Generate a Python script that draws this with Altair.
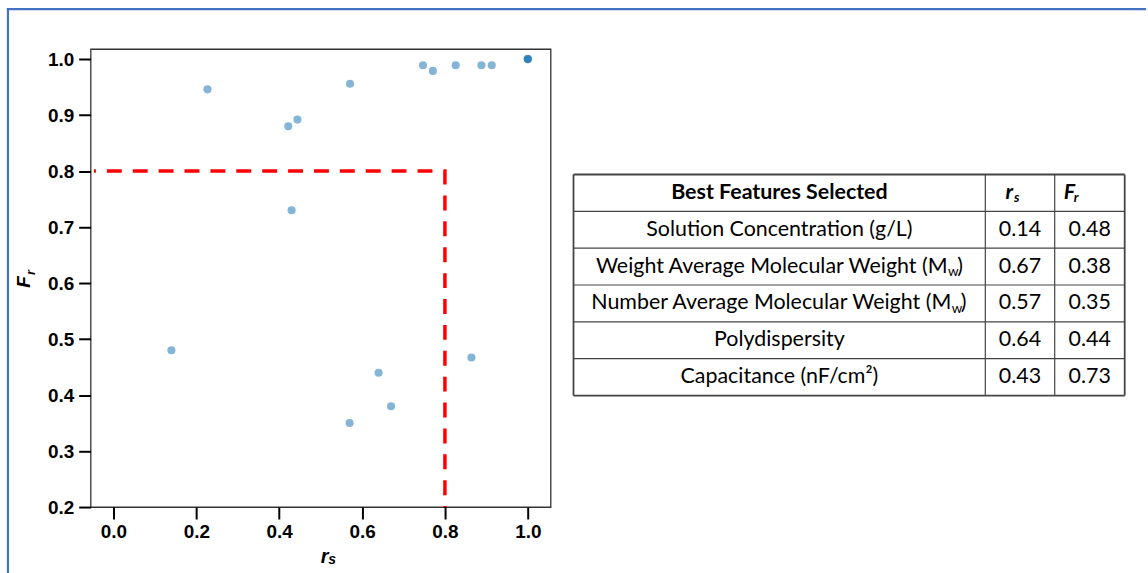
import altair as alt
import pandas as pd

# ---- scatter: rank correlation (r_s) vs. feature retention (F_r) ----
RS_POINTS = [0.14, 0.67, 0.57, 0.64, 0.43, 0.227, 0.422, 0.444, 0.571,
             0.747, 0.771, 0.826, 0.888, 0.913, 0.864, 1.0, 1.0, 1.0]
FR_POINTS = [0.48, 0.38, 0.35, 0.44, 0.73, 0.946, 0.880, 0.892, 0.956,
             0.989, 0.979, 0.989, 0.989, 0.989, 0.467, 1.0, 1.0, 1.0]

# dashed selection boundary at r_s = F_r = 0.8
THRESHOLD_RS = [-0.047, 0.8, 0.8]
THRESHOLD_FR = [0.8, 0.8, 0.2]

X_TICKS = [0.0, 0.2, 0.4, 0.6, 0.8, 1.0]
Y_TICKS = [0.2, 0.3, 0.4, 0.5, 0.6, 0.7, 0.8, 0.9, 1.0]

# ---- table of selected features ----
HEADERS = ["Best Features Selected", "r_s", "F_r"]
FEATURES = [
    "Solution Concentration (g/L)",
    "Weight Average Molecular Weight (M_w)",
    "Number Average Molecular Weight (M_w)",
    "Polydispersity",
    "Capacitance (nF/cm\u00b2)",
]
FEATURE_RS = [0.14, 0.67, 0.57, 0.64, 0.43]
FEATURE_FR = [0.48, 0.38, 0.35, 0.44, 0.73]

AXIS_FONT = "Liberation Sans"
TABLE_FONT = "Lato"
BORDER_BLUE = "#4472c4"


def split_sub(label):
    """'abc (M_w)' -> ('abc (M', 'w', ')')"""
    if "_" not in label:
        return label, "", ""
    head, rest = label.split("_", 1)
    return head, rest[0], rest[1:]


# ================= scatter panel =================
PW, PH = 462, 460
x_scale = alt.Scale(domain=[-0.055, 1.055], nice=False, zero=False)
y_scale = alt.Scale(domain=[0.2, 1.018], nice=False, zero=False)
axis_style = dict(
    format=".1f", title=None, grid=False, domain=False,
    tickColor="black", tickWidth=2, tickSize=12,
    labelFont=AXIS_FONT, labelFontSize=19, labelFontWeight="bold",
    labelColor="black", labelFlush=False, labelOverlap=False,
)
X = alt.X("rs:Q", scale=x_scale, axis=alt.Axis(values=X_TICKS, labelPadding=4, **axis_style))
Y = alt.Y("fr:Q", scale=y_scale, axis=alt.Axis(values=Y_TICKS, labelPadding=5, **axis_style))

points = alt.Chart(pd.DataFrame({"rs": RS_POINTS, "fr": FR_POINTS})).mark_circle(
    size=66, color="#1f77b4", opacity=0.55
).encode(x=X, y=Y)

threshold = alt.Chart(pd.DataFrame({
    "rs": THRESHOLD_RS, "fr": THRESHOLD_FR, "k": list(range(len(THRESHOLD_RS)))
})).mark_line(
    color="#ff0000", strokeWidth=3.5, strokeDash=[15, 11], strokeDashOffset=13, clip=True
).encode(x=X, y=Y, order="k:Q")

one = pd.DataFrame({"k": [0]})

x_base, x_sub, _ = split_sub("r_s")
y_base, y_sub, _ = split_sub("F_r")
title_font = dict(font=AXIS_FONT, fontWeight="bold", fontStyle="italic", color="black")

x_title = alt.Chart(one).mark_text(fontSize=20, align="center", baseline="alphabetic", **title_font).encode(
    x=alt.value(235), y=alt.value(516.5), text=alt.value(x_base))
x_title_sub = alt.Chart(one).mark_text(fontSize=14, align="center", baseline="alphabetic", **title_font).encode(
    x=alt.value(242.5), y=alt.value(517.5), text=alt.value(x_sub))
y_title = alt.Chart(one).mark_text(fontSize=19, angle=270, align="center", baseline="alphabetic", **title_font).encode(
    x=alt.value(-60.7), y=alt.value(234), text=alt.value(y_base))
y_title_sub = alt.Chart(one).mark_text(fontSize=13, angle=270, align="center", baseline="alphabetic", **title_font).encode(
    x=alt.value(-55.5), y=alt.value(224.5), text=alt.value(y_sub))

# page frame lines (top and left)
frame_top = alt.Chart(one).mark_rule(color=BORDER_BLUE, strokeWidth=2.2, strokeCap="square").encode(
    x=alt.value(-83), x2=alt.value(1059), y=alt.value(-40))
frame_left = alt.Chart(one).mark_rule(color=BORDER_BLUE, strokeWidth=2.2, strokeCap="square").encode(
    x=alt.value(-83), y=alt.value(-40), y2=alt.value(527))

scatter = alt.layer(
    points, threshold, x_title, x_title_sub, y_title, y_title_sub, frame_top, frame_left
).properties(width=PW, height=PH, view=alt.ViewBackground(stroke="#333333", strokeWidth=1.3))

# ================= table panel =================
TW, TH = 554, 460
COL_EDGES = [0, 413.6, 483.3, 553.6]
TABLE_TOP = 126.0
ROW_H = 37.0
N_ROWS = len(FEATURES) + 1
COL_CENTER = [(COL_EDGES[i] + COL_EDGES[i + 1]) / 2 for i in range(3)]
# right edge of the base text for labels carrying a subscript (by table row)
SUB_RIGHT_EDGE = {2: 375.7, 3: 379.4}

tx = alt.Scale(domain=[0, TW], nice=False, zero=False)
ty = alt.Scale(domain=[-TABLE_TOP / ROW_H, (TH - TABLE_TOP) / ROW_H], nice=False, zero=False, reverse=True)
TX = lambda f: alt.X(f, scale=tx, axis=None)
TY = lambda f: alt.Y(f, scale=ty, axis=None)

hlines = pd.DataFrame({"y": list(range(N_ROWS + 1))})
hlines["w"] = [1.8 if v in (0, N_ROWS) else 1.2 for v in hlines["y"]]
hlines["x0"], hlines["x1"] = COL_EDGES[0], COL_EDGES[-1]
vlines = pd.DataFrame({"x": COL_EDGES})
vlines["w"] = [1.8 if i in (0, len(COL_EDGES) - 1) else 1.2 for i in range(len(COL_EDGES))]
vlines["y0"], vlines["y1"] = 0, N_ROWS

h_rules = alt.Chart(hlines).mark_rule(color="#444444").encode(
    x=TX("x0:Q"), x2="x1:Q", y=TY("y:Q"), strokeWidth=alt.StrokeWidth("w:Q", scale=None))
v_rules = alt.Chart(vlines).mark_rule(color="#444444").encode(
    x=TX("x:Q"), y=TY("y0:Q"), y2="y1:Q", strokeWidth=alt.StrokeWidth("w:Q", scale=None))

base_text = dict(font=TABLE_FONT, fontSize=21.5, color="black", baseline="middle")
sub_text = dict(font=TABLE_FONT, fontSize=13.5, color="black", baseline="middle", dy=5.5)

# header row
head_main = alt.Chart(pd.DataFrame({"t": [HEADERS[0]], "x": [COL_CENTER[0]], "y": [0.5]})).mark_text(
    fontWeight="bold", align="center", **base_text).encode(x=TX("x:Q"), y=TY("y:Q"), text="t:N")

rs_b, rs_s, _ = split_sub(HEADERS[1])
fr_b, fr_s, _ = split_sub(HEADERS[2])
hdr = pd.DataFrame({"t": [rs_b, fr_b], "x": [441.5, 492.3], "y": [0.5, 0.5], "al": ["r", "l"]})
hdr_sub = pd.DataFrame({"t": [rs_s, fr_s], "x": [442.3, 502.5], "y": [0.5, 0.5]})
head_rs = alt.Chart(hdr[hdr.al == "r"]).mark_text(
    fontWeight="bold", fontStyle="italic", align="right", **base_text).encode(x=TX("x:Q"), y=TY("y:Q"), text="t:N")
head_fr = alt.Chart(hdr[hdr.al == "l"]).mark_text(
    fontWeight="bold", fontStyle="italic", align="left", **base_text).encode(x=TX("x:Q"), y=TY("y:Q"), text="t:N")
head_subs = alt.Chart(hdr_sub).mark_text(
    fontWeight="bold", fontStyle="italic", align="left", **sub_text).encode(x=TX("x:Q"), y=TY("y:Q"), text="t:N")

# feature rows
plain, subbed = [], []
for i, label in enumerate(FEATURES, start=1):
    head, sub, tail = split_sub(label)
    if sub:
        edge = SUB_RIGHT_EDGE[i]
        subbed.append({"head": head, "sub": sub, "tail": tail, "x": edge, "y": i + 0.5})
    else:
        plain.append({"t": head, "x": COL_CENTER[0], "y": i + 0.5})
plain = pd.DataFrame(plain)
subbed = pd.DataFrame(subbed)
subbed["xs"] = subbed["x"] + 0.5
subbed["xt"] = subbed["x"] + 9.6

feat_plain = alt.Chart(plain).mark_text(align="center", **base_text).encode(
    x=TX("x:Q"), y=TY("y:Q"), text="t:N")
feat_head = alt.Chart(subbed).mark_text(align="right", **base_text).encode(
    x=TX("x:Q"), y=TY("y:Q"), text="head:N")
feat_sub = alt.Chart(subbed).mark_text(align="left", **sub_text).encode(
    x=TX("xs:Q"), y=TY("y:Q"), text="sub:N")
feat_tail = alt.Chart(subbed).mark_text(align="left", **base_text).encode(
    x=TX("xt:Q"), y=TY("y:Q"), text="tail:N")

vals = pd.DataFrame({"rs": FEATURE_RS, "fr": FEATURE_FR, "y": [i + 1.5 for i in range(len(FEATURES))]})
vals["x_rs"], vals["x_fr"] = COL_CENTER[1], COL_CENTER[2]
val_rs = alt.Chart(vals).mark_text(align="center", **base_text).encode(
    x=TX("x_rs:Q"), y=TY("y:Q"), text=alt.Text("rs:Q", format=".2f"))
val_fr = alt.Chart(vals).mark_text(align="center", **base_text).encode(
    x=TX("x_fr:Q"), y=TY("y:Q"), text=alt.Text("fr:Q", format=".2f"))

table = alt.layer(
    h_rules, v_rules, head_main, head_rs, head_fr, head_subs,
    feat_plain, feat_head, feat_sub, feat_tail, val_rs, val_fr
).properties(width=TW, height=TH)

chart = alt.hconcat(scatter, table, spacing=23, bounds="flush").properties(
    padding={"left": 5, "top": 5, "right": 0, "bottom": 0}
).configure_view(stroke="transparent")

chart.save("out.html", embed_options={"renderer": "svg", "actions": False})
